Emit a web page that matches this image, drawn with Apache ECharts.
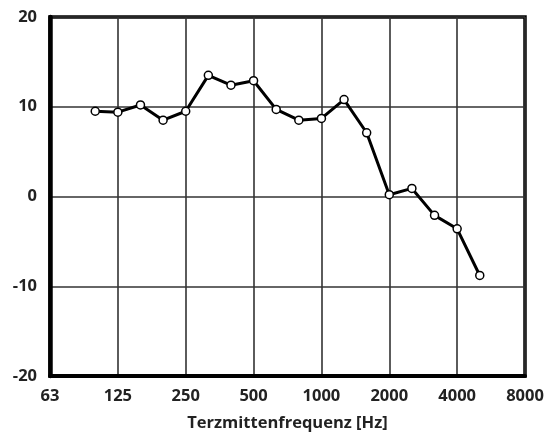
<!DOCTYPE html>
<html>
<head>
<meta charset="utf-8">
<script src="https://cdn.jsdelivr.net/npm/echarts@6/dist/echarts.min.js"></script>
<style>html,body{margin:0;padding:0;background:#fff}#c{width:547px;height:437px}</style>
</head>
<body>
<div id="c"></div>
<script>
// third-octave band axis categories (63 Hz .. 8000 Hz)
const bands = ['63','80','100','125','160','200','250','315','400','500','630','800','1000','1250','1600','2000','2500','3150','4000','5000','6300','8000'];
// measured frequencies and values
const freqs = ['100','125','160','200','250','315','400','500','630','800','1000','1250','1600','2000','2500','3150','4000','5000'];
const values = [9.5, 9.4, 10.2, 8.5, 9.5, 13.5, 12.4, 12.9, 9.7, 8.5, 8.7, 10.8, 7.1, 0.2, 0.9, -2.1, -3.6, -8.8];
const yTicks = [-20, -10, 0, 10, 20];

const chart = echarts.init(document.getElementById('c'), null, {renderer: 'canvas'});
const font = '"Open Sans", "DejaVu Sans", sans-serif';
chart.setOption({
  animation: false,
  backgroundColor: '#fff',
  grid: {left: 50, right: 22, top: 17, bottom: 55, show: true, borderColor: '#000', borderWidth: 3.5, backgroundColor: 'transparent'},
  xAxis: {
    type: 'category',
    data: bands,
    boundaryGap: false,
    name: 'Terzmittenfrequenz [Hz]',
    nameLocation: 'middle',
    nameGap: 39,
    nameTextStyle: {fontFamily: font, fontWeight: 'bold', fontSize: 16.5, color: '#222'},
    axisLine: {show: true, onZero: false, lineStyle: {color: '#000', width: 4}},
    axisTick: {show: false},
    axisLabel: {interval: 2, margin: 12, fontFamily: font, fontWeight: 'bold', fontSize: 16.5, color: '#222'},
    splitLine: {show: true, interval: 2, lineStyle: {color: '#333', width: 1.6}}
  },
  yAxis: {
    type: 'value',
    min: yTicks[0],
    max: yTicks[yTicks.length - 1],
    interval: 10,
    axisLine: {show: true, lineStyle: {color: '#000', width: 4.5}},
    axisTick: {show: false},
    axisLabel: {margin: 13, fontFamily: font, fontWeight: 'bold', fontSize: 16.5, color: '#222'},
    splitLine: {show: true, lineStyle: {color: '#333', width: 1.6}}
  },
  series: [{
    type: 'line',
    data: freqs.map((f, i) => [f, values[i]]),
    lineStyle: {color: '#000', width: 3},
    symbol: 'circle',
    symbolSize: 8,
    itemStyle: {color: '#fff', borderColor: '#000', borderWidth: 1.5},
    z: 5
  }]
});
</script>
</body>
</html>
